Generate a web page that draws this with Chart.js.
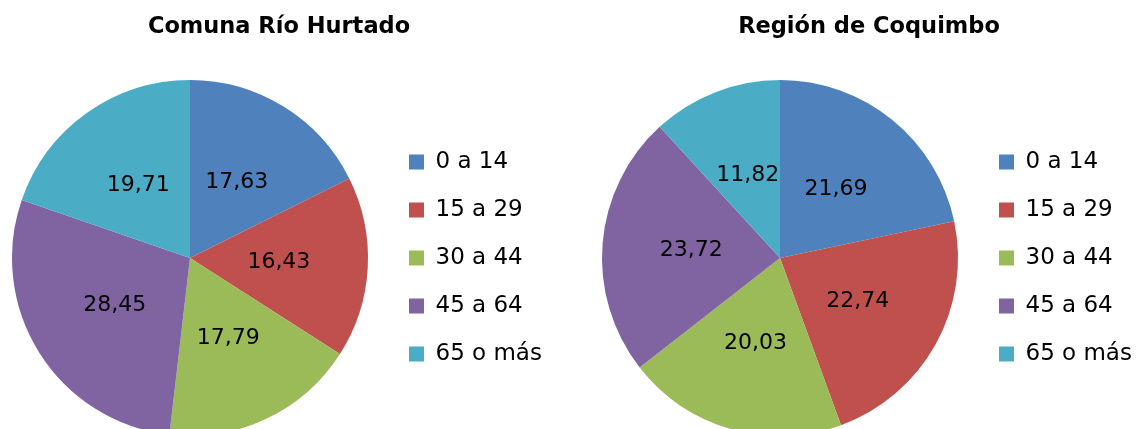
<!DOCTYPE html>
<html lang="es">
<head>
<meta charset="utf-8">
<title>Población por grupos de edad</title>
<script src="https://cdn.jsdelivr.net/npm/chart.js@4.4.1/dist/chart.umd.min.js"></script>
<style>
    html, body {
        margin: 0;
        padding: 0;
        background: #fff;
        overflow: hidden;
    }
    #page {
        position: relative;
        width: 1139px;
        height: 429px;
        overflow: hidden;
    }
    .pie-box {
        position: absolute;
        top: 0;
        width: 566px;
        height: 436px;
    }
</style>
</head>
<body>
<div id="page">
    <div class="pie-box" style="left:-4px"><canvas id="rioHurtadoChart"></canvas></div>
    <div class="pie-box" style="left:586px"><canvas id="coquimboChart"></canvas></div>
</div>

<script>
// Data
const categories = ['0 a 14', '15 a 29', '30 a 44', '45 a 64', '65 o más'];
const rioHurtadoValues = [17.63, 16.43, 17.79, 28.45, 19.71];
const coquimboValues = [21.69, 22.74, 20.03, 23.72, 11.82];

const sliceColors = ['#4F81BD', '#C0504D', '#9BBB59', '#8064A2', '#4BACC6'];

Chart.defaults.font.family = "'DejaVu Sans', sans-serif";
Chart.defaults.color = '#000';

// Legend is kept at a fixed width so the pie sits left of it like the original
const LEGEND_WIDTH = 178;
const fixedLegendWidth = {
    id: 'fixedLegendWidth',
    afterInit(chart) {
        const fit = chart.legend.fit;
        chart.legend.fit = function() {
            fit.call(this);
            this.width = LEGEND_WIDTH;
        };
    }
};

// Values written inside each slice, with a decimal comma
const sliceLabels = {
    id: 'sliceLabels',
    afterDatasetsDraw(chart) {
        const ctx = chart.ctx;
        const dataset = chart.data.datasets[0];
        const meta = chart.getDatasetMeta(0);
        ctx.save();
        ctx.font = "22px 'DejaVu Sans', sans-serif";
        ctx.fillStyle = '#000';
        ctx.textAlign = 'center';
        ctx.textBaseline = 'middle';
        meta.data.forEach(function(arc, i) {
            const pos = arc.tooltipPosition(true);
            ctx.fillText(dataset.data[i].toFixed(2).replace('.', ','), pos.x, pos.y);
        });
        ctx.restore();
    }
};

function makePie(canvasId, title, values) {
    const ctx = document.getElementById(canvasId).getContext('2d');
    return new Chart(ctx, {
        type: 'pie',
        data: {
            labels: categories,
            datasets: [{
                data: values,
                backgroundColor: sliceColors,
                borderWidth: 0
            }]
        },
        options: {
            responsive: true,
            maintainAspectRatio: false,
            animation: false,
            events: [],
            clip: false,
            layout: {
                padding: 0
            },
            plugins: {
                title: {
                    display: true,
                    text: title,
                    font: { size: 22.5, weight: 'bold', lineHeight: 1.2 },
                    color: '#000',
                    padding: { top: 14, bottom: 39 }
                },
                legend: {
                    position: 'right',
                    fullSize: false,
                    labels: {
                        boxWidth: 15,
                        boxHeight: 15,
                        padding: 25,
                        color: '#000',
                        font: { size: 23 }
                    }
                },
                tooltip: { enabled: false }
            }
        },
        plugins: [fixedLegendWidth, sliceLabels]
    });
}

makePie('rioHurtadoChart', 'Comuna Río Hurtado', rioHurtadoValues);
makePie('coquimboChart', 'Región de Coquimbo', coquimboValues);
</script>
</body>
</html>
